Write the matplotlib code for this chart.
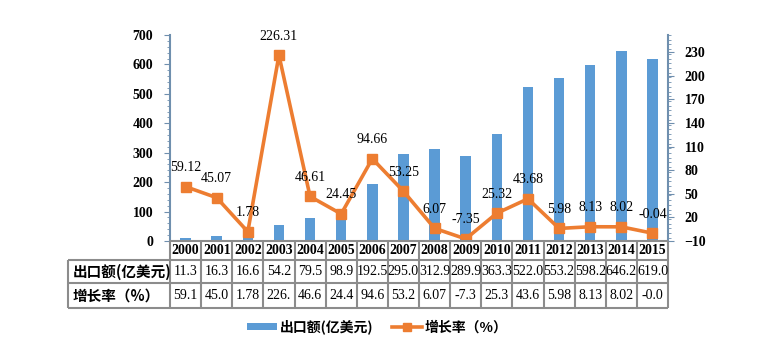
import numpy as np
import matplotlib
matplotlib.use('Agg')
import matplotlib.pyplot as plt
from matplotlib.lines import Line2D
from matplotlib.patches import Patch
from matplotlib.ticker import MultipleLocator

plt.rcParams['font.family'] = ['Liberation Serif', 'Noto Sans CJK SC']

years = ['2000', '2001', '2002', '2003', '2004', '2005', '2006', '2007',
         '2008', '2009', '2010', '2011', '2012', '2013', '2014', '2015']
export = [11.3, 16.3, 16.6, 54.2, 79.5, 98.9, 192.5, 295.0,
          312.9, 289.9, 363.3, 522.0, 553.2, 598.2, 646.2, 619.0]
growth = [59.12, 45.07, 1.78, 226.31, 46.61, 24.45, 94.66, 53.25,
          6.07, -7.35, 25.32, 43.68, 5.98, 8.13, 8.02, -0.04]
export_txt = ['11.3', '16.3', '16.6', '54.2', '79.5', '98.9', '192.5', '295.0',
              '312.9', '289.9', '363.3', '522.0', '553.2', '598.2', '646.2', '619.0']
growth_txt = ['59.1', '45.0', '1.78', '226.', '46.6', '24.4', '94.6', '53.2',
              '6.07', '-7.3', '25.3', '43.6', '5.98', '8.13', '8.02', '-0.0']
row_labels = ['出口额(亿美元)', '增长率（%）']
right_ticks = [-10, 20, 50, 80, 110, 140, 170, 200, 230]

bar_color = '#5b9bd5'
line_color = '#ed7d31'
axis_color = '#6f8fae'
grid_color = '#8c8c8c'
cjk = ['Noto Sans CJK SC', 'DejaVu Sans']

W, H = 762, 356
fig = plt.figure(figsize=(W / 100, H / 100), dpi=100)

x = np.arange(len(years))

# main chart
ax = fig.add_axes([170 / W, 1 - 241 / H, 498 / W, 206 / H])
ax.bar(x, export, width=0.34, color=bar_color, zorder=3)
ax.set_xlim(-0.5, len(years) - 0.5)
ax.set_ylim(0, 700)
ax.yaxis.set_major_locator(MultipleLocator(100))
ax.yaxis.set_minor_locator(MultipleLocator(20))
ax.set_xticks([])
for s in ['top', 'right', 'bottom']:
    ax.spines[s].set_visible(False)
ax.spines['left'].set_color(axis_color)
ax.spines['left'].set_linewidth(1.5)
ax.tick_params(axis='y', which='major', length=4, color=axis_color, pad=8,
               labelsize=10)
ax.tick_params(axis='y', which='minor', length=2, color=axis_color)
for lab in ax.get_yticklabels():
    lab.set_fontweight('bold')

ax2 = ax.twinx()
ax2.set_ylim(-10, 252)
ax2.set_yticks(right_ticks)
ax2.yaxis.set_minor_locator(MultipleLocator(6))
ax2.set_xticks([])
for s in ['top', 'left', 'bottom']:
    ax2.spines[s].set_visible(False)
ax2.spines['right'].set_color(axis_color)
ax2.spines['right'].set_linewidth(1.5)
ax2.tick_params(axis='y', which='major', length=4, color=axis_color, pad=8,
                labelsize=10)
ax2.tick_params(axis='y', which='minor', length=2, color=axis_color)
for lab in ax2.get_yticklabels():
    lab.set_fontweight('bold')
ax2.plot(x, growth, color=line_color, lw=2.6, marker='s', ms=7,
         markerfacecolor=line_color, markeredgecolor=line_color, zorder=4)

for xi, g in zip(x, growth):
    ax2.annotate('%.2f' % g, (xi, g), xytext=(0, 9),
                 textcoords='offset points', ha='center', va='bottom',
                 fontsize=10, zorder=5)

# data table under the chart
tab = fig.add_axes([68 / W, 1 - 308 / H, 600 / W, 67 / H])
label_w = 102 / (498 / len(years))
tab.set_xlim(-0.5 - label_w, len(years) - 0.5)
tab.set_ylim(67, 0)
tab.axis('off')
rows = [0, 19, 42, 67]
lkw = dict(color=grid_color, lw=1.5, clip_on=False)
tab.hlines(rows[0], -0.5, len(years) - 0.5, **lkw)
tab.hlines(rows[1:], -0.5 - label_w, len(years) - 0.5, **lkw)
tab.vlines(np.arange(len(years) + 1) - 0.5, rows[0], rows[-1], **lkw)
tab.vlines(-0.5 - label_w, rows[1], rows[-1], **lkw)

for xi, yr in zip(x, years):
    tab.text(xi, (rows[0] + rows[1]) / 2, yr, ha='center', va='center',
             fontsize=10, fontweight='bold')
for xi, t in zip(x, export_txt):
    tab.text(xi, (rows[1] + rows[2]) / 2, t, ha='center', va='center',
             fontsize=10)
for xi, t in zip(x, growth_txt):
    tab.text(xi, (rows[2] + rows[3]) / 2, t, ha='center', va='center',
             fontsize=10)
for r, lab in enumerate(row_labels):
    tab.text(-0.5 - label_w + 0.15, (rows[r + 1] + rows[r + 2]) / 2, lab,
             ha='left', va='center', fontsize=10.5, fontweight='bold',
             family=cjk)

handles = [Patch(facecolor=bar_color, label=row_labels[0]),
           Line2D([], [], color=line_color, lw=2.6, marker='s', ms=6,
                  label=row_labels[1])]
fig.legend(handles=handles, loc='center', bbox_to_anchor=(0.495, 1 - 327 / H),
           ncol=2, frameon=False, handlelength=2.2, handleheight=0.45,
           columnspacing=1.3, handletextpad=0.2,
           prop=dict(family=cjk, size=10, weight='bold'))

fig.savefig('out.png', dpi=100, facecolor='white')
